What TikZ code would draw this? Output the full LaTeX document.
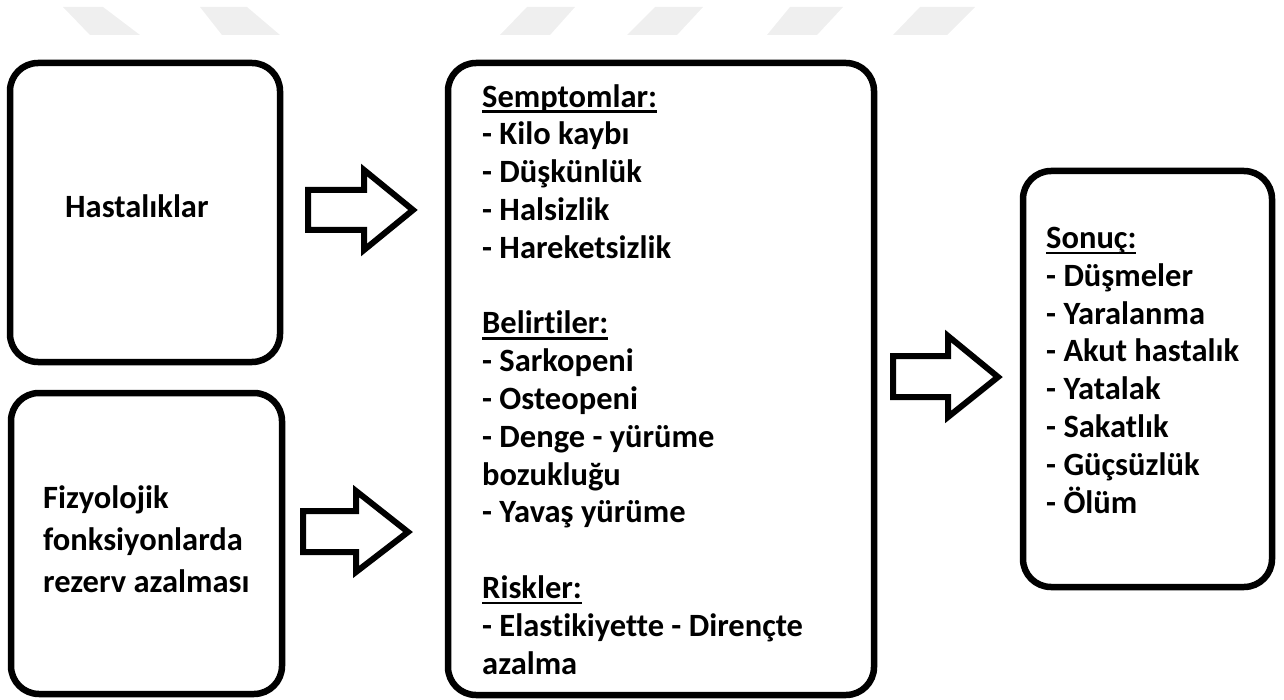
\documentclass[tikz,border=0pt]{standalone}
\usepackage{fontspec}
\setmainfont{Carlito}[Ligatures={NoCommon}]
\newcommand\myul[1]{\setbox0\hbox{#1}\rlap{\rule[-6pt]{\wd0}{2.6pt}}\box0}
\definecolor{wm}{HTML}{EFEFEF}
\begin{document}
\begin{tikzpicture}[x=1pt,y=-1pt,
  box/.style={draw=black, line width=6.5pt, rounded corners=28pt, inner sep=0pt, fill=white},
  blockarrow/.style={draw=black, line width=6pt, line join=miter, fill=white},
  txt/.style={inner sep=0pt, align=left, anchor=base west, text=black,
    font=\fontsize{32.5}{37.8}\selectfont\bfseries},
  wmark/.style={fill=wm, draw=none}]
\useasboundingbox (0,0) rectangle (1284,700);
% faint watermark band
\fill[wmark] (63,7) -- (103,7) -- (140,35) -- (90,35) -- cycle;
\fill[wmark] (200,7) -- (247,7) -- (280,35) -- (222,35) -- cycle;
\fill[wmark] (527,7) -- (575,7) -- (550,35) -- (500,35) -- cycle;
\fill[wmark] (655,7) -- (703,7) -- (677,35) -- (627,35) -- cycle;
\fill[wmark] (790,7) -- (843,7) -- (817,35) -- (767,35) -- cycle;
\fill[wmark] (920,7) -- (975,7) -- (947,35) -- (893,35) -- cycle;
% boxes
\node[box, minimum width=270pt, minimum height=299pt] (hast) at (145,212.5) {};
\node[box, minimum width=271pt, minimum height=301pt] (fizy) at (146.5,543.5) {};
\node[box, minimum width=426pt, minimum height=632pt] (semp) at (661,379) {};
\node[box, minimum width=249pt, minimum height=416pt] (sonuc) at (1147.5,379) {};
% texts (anchored at the baseline of the last line)
\node[txt] (thast) at (65,218) {Hastalıklar};
\node[txt, font=\fontsize{32.5}{42}\selectfont\bfseries] (tfizy) at (43,592)
  {Fizyolojik\\fonksiyonlarda\\rezerv azalması};
\node[txt] (tsemp) at (482,674) {\myul{Semptomlar:}\\- Kilo kaybı\\- Düşkünlük\\- Halsizlik\\- Hareketsizlik\\[37.8pt]
  \myul{Belirtiler:}\\- Sarkopeni\\- Osteopeni\\- Denge - yürüme\\bozukluğu\\- Yavaş yürüme\\[37.8pt]
  \myul{Riskler:}\\- Elastikiyette - Dirençte\\azalma};
\node[txt] (tsonuc) at (1046,513) {\myul{Sonuç:}\\- Düşmeler\\- Yaralanma\\- Akut hastalık\\- Yatalak\\- Sakatlık\\- Güçsüzlük\\- Ölüm};
% block arrows
\draw[blockarrow] (308,190) -- (364,190) -- (364,170) -- (413,210) -- (364,250) -- (364,230) -- (308,230) -- cycle;
\draw[blockarrow] (303,511) -- (356,511) -- (356,491) -- (408,532) -- (356,572) -- (356,552) -- (303,552) -- cycle;
\draw[blockarrow] (893,356) -- (948,356) -- (948,336) -- (998,377) -- (948,417) -- (948,397) -- (893,397) -- cycle;
\end{tikzpicture}
\end{document}
